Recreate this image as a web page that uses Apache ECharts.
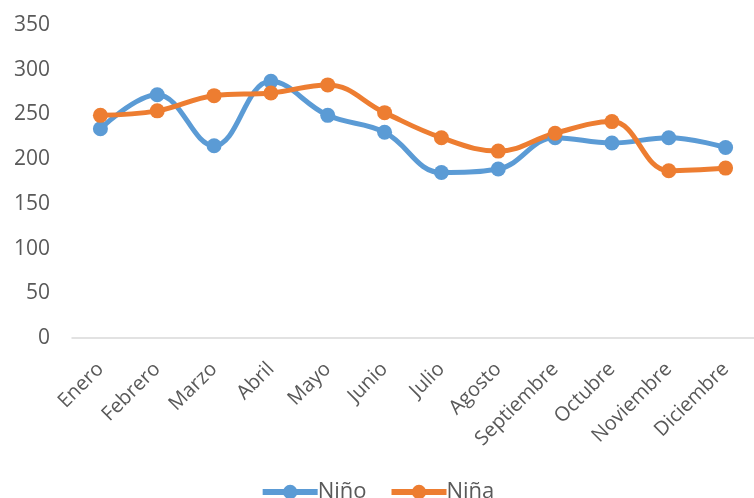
<!DOCTYPE html>
<html>
<head>
<meta charset="utf-8">
<script src="https://cdn.jsdelivr.net/npm/echarts@6/dist/echarts.min.js"></script>
<style>
  html, body { margin: 0; padding: 0; background: #fff; }
  #main { width: 754px; height: 498px; }
</style>
</head>
<body>
<div id="main"></div>
<script>
// datos
var meses = ['Enero', 'Febrero', 'Marzo', 'Abril', 'Mayo', 'Junio', 'Julio', 'Agosto', 'Septiembre', 'Octubre', 'Noviembre', 'Diciembre'];
var nino = [234, 272, 215, 287, 249, 230, 185, 189, 224, 218, 224, 213];
var nina = [249, 254, 271, 274, 283, 252, 224, 209, 229, 242, 187, 190];

var fuente = '"Open Sans", "Noto Sans", sans-serif';

echarts.init(document.getElementById('main')).setOption({
    animation: false,
    grid: { left: 72, top: 25, width: 687, height: 313 },
    legend: {
        bottom: -10,
        left: 'center',
        itemWidth: 55,
        itemHeight: 18,
        itemGap: 22,
        lineStyle: { width: 6 },
        textStyle: { fontFamily: fuente, fontSize: 22, color: '#595959', padding: [0, 0, 0, -5] },
        data: ['Niño', 'Niña']
    },
    xAxis: {
        type: 'category',
        data: meses,
        axisLine: { lineStyle: { color: '#d9d9d9', width: 1.5 } },
        axisTick: { show: false },
        axisLabel: { rotate: 45, fontFamily: fuente, fontSize: 20, color: '#595959', margin: 28 }
    },
    yAxis: {
        type: 'value',
        min: 0,
        max: 350,
        interval: 50,
        axisLine: { show: false },
        axisTick: { show: false },
        splitLine: { show: false },
        axisLabel: { fontFamily: fuente, fontSize: 21, color: '#595959', margin: 22 }
    },
    series: [
        {
            name: 'Niño',
            type: 'line',
            data: nino,
            smooth: 0.4,
            symbol: 'circle',
            symbolSize: 15,
            lineStyle: { width: 5, color: '#5b9bd5' },
            itemStyle: { color: '#5b9bd5' }
        },
        {
            name: 'Niña',
            type: 'line',
            data: nina,
            smooth: 0.4,
            symbol: 'circle',
            symbolSize: 15,
            lineStyle: { width: 5, color: '#ed7d31' },
            itemStyle: { color: '#ed7d31' }
        }
    ]
});
</script>
</body>
</html>
